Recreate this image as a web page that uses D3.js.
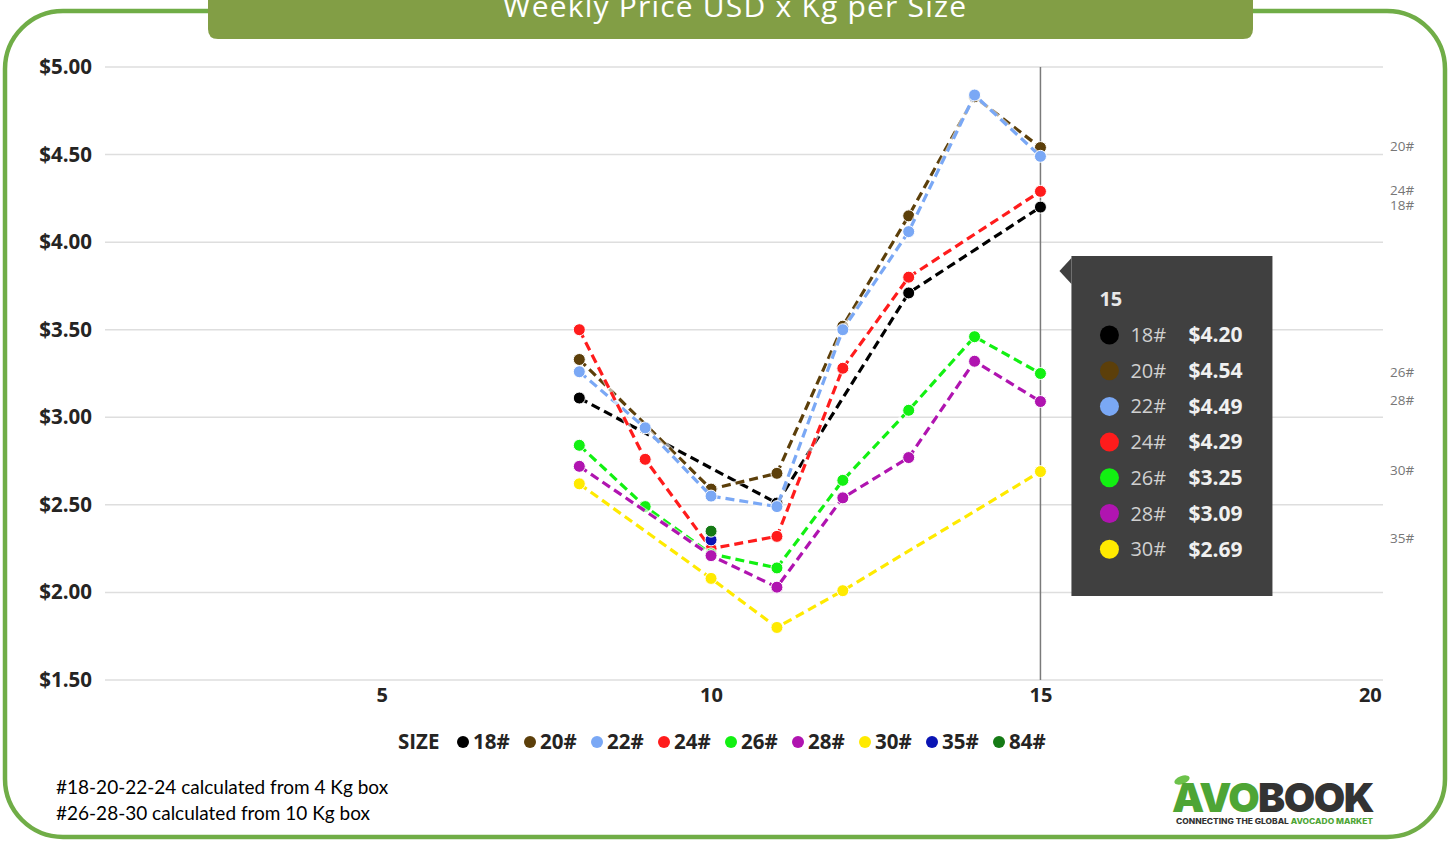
<!DOCTYPE html>
<html><head><meta charset="utf-8">
<script src="https://cdn.jsdelivr.net/npm/d3@7"></script>
<style>
html,body{margin:0;padding:0;background:#fff;}
svg{display:block;}
</style></head>
<body>
<svg id="chart" width="1450" height="842"></svg>
<script>
// ---- data ----
const weeks = [8, 9, 10, 11, 12, 13, 14, 15];
const sizes = ["18#", "20#", "22#", "24#", "26#", "28#", "30#", "35#", "84#"];
const colors = ["#000000", "#5c3f0a", "#7aa8f5", "#ff1c1c", "#12f012", "#b014b0", "#ffea00", "#0a14b4", "#157a15"];
const s18 = [3.11, null, null, 2.51, null, 3.71, null, 4.20];
const s20 = [3.33, null, 2.59, 2.68, 3.52, 4.15, 4.83, 4.54];
const s22 = [3.26, 2.94, 2.55, 2.49, 3.50, 4.06, 4.84, 4.49];
const s24 = [3.50, 2.76, 2.25, 2.32, 3.28, 3.80, null, 4.29];
const s26 = [2.84, 2.49, 2.22, 2.14, 2.64, 3.04, 3.46, 3.25];
const s28 = [2.72, null, 2.21, 2.03, 2.54, 2.77, 3.32, 3.09];
const s30 = [2.62, null, 2.08, 1.80, 2.01, null, null, 2.69];
const s35 = [null, null, 2.30, null, null, null, null, null];
const s84 = [null, null, 2.35, null, null, null, null, null];
const seriesValues = [s18, s20, s22, s24, s26, s28, s30, s35, s84];
const xTicks = [5, 10, 15, 20];
const yTicks = [1.5, 2.0, 2.5, 3.0, 3.5, 4.0, 4.5, 5.0];
const title = "Weekly Price USD x Kg per Size";
const tooltipWeek = 15;
const footnotes = ["#18-20-22-24 calculated from 4 Kg box", "#26-28-30 calculated from 10 Kg box"];

// ---- layout ----
const svg = d3.select("#chart");
const x = d3.scaleLinear().domain([0.8, 20.2]).range([105, 1383]);
const y = d3.scaleLinear().domain([1.5, 5.0]).range([680, 67]);
const fontUI = "'Open Sans', 'Noto Sans', sans-serif";

// frame
svg.append("rect").attr("x", 5).attr("y", 11).attr("width", 1440).attr("height", 826)
  .attr("rx", 58).attr("ry", 58).attr("fill", "#fff").attr("stroke", "#70ad47").attr("stroke-width", 4.5);

// title banner
svg.append("path")
  .attr("d", `M208,-5 L1253,-5 L1253,29 Q1253,39 1243,39 L218,39 Q208,39 208,29 Z`)
  .attr("fill", "#829e45");
svg.append("text").attr("x", 735).attr("y", 17).attr("text-anchor", "middle")
  .attr("font-family", fontUI).attr("font-size", 30).attr("fill", "#fff").attr("letter-spacing", 1.2)
  .text(title);

// gridlines
svg.append("g").selectAll("line").data(yTicks).join("line")
  .attr("x1", 105).attr("x2", 1383).attr("y1", d => y(d)).attr("y2", d => y(d))
  .attr("stroke", "#dedede").attr("stroke-width", 1.5);

// y axis labels
const yAxis = d3.axisLeft(y).tickValues(yTicks).tickSize(0).tickPadding(0).tickFormat(d => "$" + d3.format(".2f")(d));
const gy = svg.append("g").attr("transform", "translate(92,0)").call(yAxis);
gy.select(".domain").remove();
gy.selectAll("text").attr("font-family", fontUI).attr("font-size", 20.5).attr("font-weight", 700).attr("fill", "#252423");

// x axis labels
const xAxis = d3.axisBottom(x).tickValues(xTicks).tickSize(0).tickPadding(0);
const gx = svg.append("g").attr("transform", "translate(0,688)").call(xAxis);
gx.select(".domain").remove();
gx.selectAll("text").attr("font-family", fontUI).attr("font-size", 20).attr("font-weight", 700).attr("fill", "#252423");

// hover vertical line
svg.append("line").attr("x1", x(tooltipWeek)).attr("x2", x(tooltipWeek)).attr("y1", y(5.0)).attr("y2", y(1.5))
  .attr("stroke", "#7a7a7a").attr("stroke-width", 1.5);

// series
const series = sizes.map((s, i) => ({
  name: s, color: colors[i],
  pts: weeks.map((w, j) => ({ w, v: seriesValues[i][j] })).filter(p => p.v != null)
}));
const line = d3.line().x(p => x(p.w)).y(p => y(p.v));
const gS = svg.append("g");
series.forEach(s => {
  const g = gS.append("g");
  g.append("path").attr("d", line(s.pts)).attr("fill", "none").attr("stroke", "#fff")
    .attr("stroke-width", 5).attr("stroke-opacity", 0.6);
  g.append("path").attr("d", line(s.pts)).attr("fill", "none").attr("stroke", s.color)
    .attr("stroke-width", 3.2).attr("stroke-dasharray", "9,5");
  g.selectAll("circle").data(s.pts).join("circle")
    .attr("cx", p => x(p.w)).attr("cy", p => y(p.v)).attr("r", 6)
    .attr("fill", s.color).attr("stroke", "#fff").attr("stroke-width", 1);
});

// end labels on right
const placed = [];
const gL = svg.append("g");
series.forEach(s => {
  const last = s.pts[s.pts.length - 1];
  const yy = y(last.v);
  if (placed.some(p => Math.abs(p - yy) < 12)) return;
  placed.push(yy);
  gL.append("text").attr("x", 1390).attr("y", yy - 1).attr("dy", "0.32em")
    .attr("font-family", fontUI).attr("font-size", 13.5).attr("fill", "#777").text(s.name);
});

// legend
const gLeg = svg.append("g").attr("transform", "translate(0,742)");
gLeg.append("text").attr("x", 398).attr("y", 0).attr("dy", "0.35em")
  .attr("font-family", fontUI).attr("font-size", 20.5).attr("font-weight", 700).attr("fill", "#252423").text("SIZE");
sizes.forEach((s, i) => {
  const cx = 463 + i * 67.0;
  gLeg.append("circle").attr("cx", cx).attr("cy", 0).attr("r", 6).attr("fill", colors[i]);
  gLeg.append("text").attr("x", cx + 10).attr("y", 0).attr("dy", "0.35em")
    .attr("font-family", fontUI).attr("font-size", 20.5).attr("font-weight", 700).attr("fill", "#252423").text(s);
});

// tooltip
const tx = x(tooltipWeek) + 31, ty = 256;
const tip = svg.append("g");
tip.append("path").attr("d", `M${tx},${ty + 2} L${tx - 12},${ty + 15} L${tx},${ty + 28} Z`).attr("fill", "#404040");
tip.append("rect").attr("x", tx).attr("y", ty).attr("width", 201).attr("height", 340).attr("fill", "#404040");
tip.append("text").attr("x", tx + 28).attr("y", ty + 44).attr("dy", "0.32em")
  .attr("font-family", fontUI).attr("font-size", 20).attr("font-weight", 700).attr("fill", "#e8e8e8").text(tooltipWeek);
const wi = weeks.indexOf(tooltipWeek);
const tipRows = series.map((s, i) => ({ name: s.name, color: s.color, v: seriesValues[i][wi] })).filter(r => r.v != null);
tipRows.forEach((r, k) => {
  const ry = ty + 79 + k * 35.7;
  tip.append("circle").attr("cx", tx + 38).attr("cy", ry).attr("r", 9.5).attr("fill", r.color);
  tip.append("text").attr("x", tx + 59).attr("y", ry).attr("dy", "0.35em")
    .attr("font-family", fontUI).attr("font-size", 20).attr("fill", "#d0d0d0").text(r.name);
  tip.append("text").attr("x", tx + 117).attr("y", ry).attr("dy", "0.35em")
    .attr("font-family", fontUI).attr("font-size", 21).attr("font-weight", 700).attr("fill", "#f0f0f0")
    .text("$" + d3.format(".2f")(r.v));
});

// footnotes
footnotes.forEach((t, i) => {
  svg.append("text").attr("x", 56).attr("y", 794 + i * 26)
    .attr("font-family", "Lato, 'Open Sans', sans-serif").attr("font-size", 19).attr("fill", "#000").text(t);
});

// logo
const logo = svg.append("g");
logo.append("ellipse").attr("cx", 1182).attr("cy", 780).attr("rx", 8).attr("ry", 4)
  .attr("transform", "rotate(-20,1182,780)").attr("fill", "#6cc24a");
const lt = logo.append("text").attr("x", 1172).attr("y", 812)
  .attr("font-family", "Inter, 'DejaVu Sans', sans-serif").attr("font-size", 40).attr("font-weight", 900).attr("letter-spacing", -1.5)
  .attr("textLength", 201).attr("lengthAdjust", "spacingAndGlyphs");
lt.append("tspan").attr("fill", "#4ea535").text("AVO");
lt.append("tspan").attr("fill", "#333333").text("BOOK");
const st = logo.append("text").attr("x", 1176).attr("y", 824)
  .attr("font-family", "Inter, 'DejaVu Sans', sans-serif").attr("font-size", 7.5).attr("font-weight", 800)
  .attr("textLength", 197).attr("lengthAdjust", "spacingAndGlyphs");
st.append("tspan").attr("fill", "#333").text("CONNECTING THE GLOBAL ");
st.append("tspan").attr("fill", "#4ea535").text("AVOCADO MARKET");
</script>
</body></html>
